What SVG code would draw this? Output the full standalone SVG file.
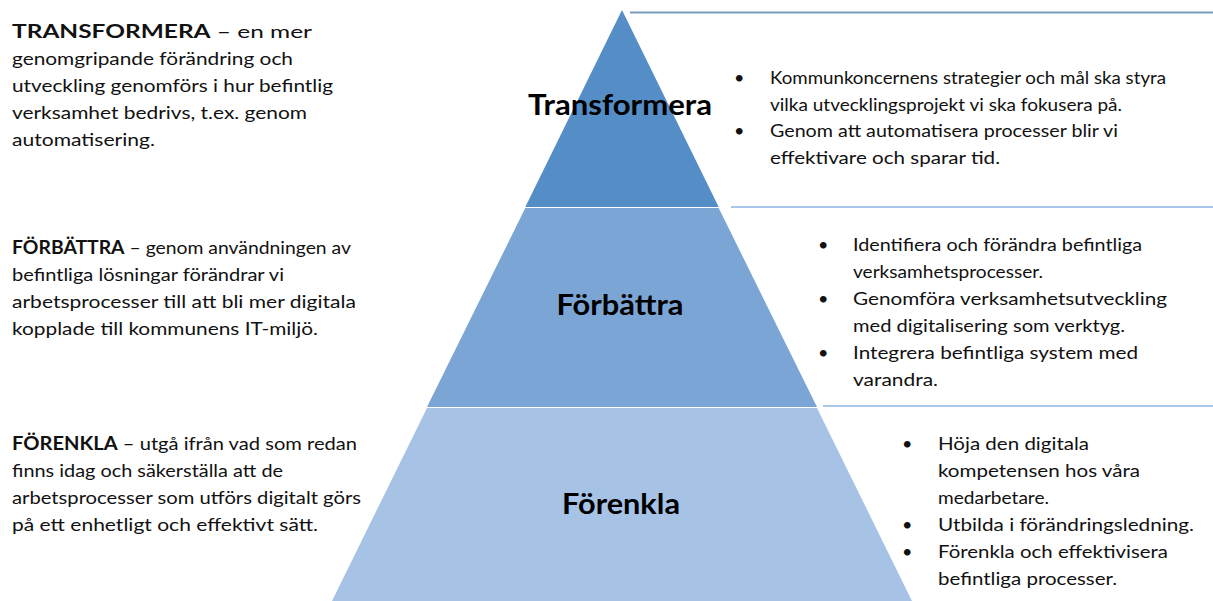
<svg xmlns="http://www.w3.org/2000/svg" width="1213" height="601" viewBox="0 0 1213 601">
<style>
.t{font-family:Lato,"Liberation Sans",sans-serif;font-size:18px;fill:#111}
.b{font-weight:bold}
.lbl{font-family:Lato,"Liberation Sans",sans-serif;font-size:28px;font-weight:bold;fill:#000;text-anchor:middle}
.sep{fill:none}
</style>
<rect width="1213" height="601" fill="#fff"/>
<g id="layer-transformera">
<polygon points="622,10 718.7,207 525.3,207" fill="#558DC6"/>
<text class="lbl" x="620" y="115" textLength="184" lengthAdjust="spacingAndGlyphs">Transformera</text>
</g>
<g id="layer-forbattra">
<polygon points="525.3,208 718.7,208 817,407 427,407" fill="#7BA5D5"/>
<text class="lbl" x="620" y="315" textLength="127" lengthAdjust="spacingAndGlyphs">Förbättra</text>
</g>
<g id="layer-forenkla">
<polygon points="427,408 817,408 912,601 332,601" fill="#A6C2E4"/>
<text class="lbl" x="621" y="514" textLength="118" lengthAdjust="spacingAndGlyphs">Förenkla</text>
</g>
<g id="connectors">
<line x1="630" y1="12.5" x2="1213" y2="12.5" stroke="#7D9DC0" stroke-width="2"/>
<line x1="731" y1="207" x2="1213" y2="207" stroke="#8DB3E2" stroke-width="1.5"/>
<line x1="823" y1="406" x2="1213" y2="406" stroke="#8DB3E2" stroke-width="1.5"/>
</g>
<g id="desc-transformera" class="t">
<text x="12" y="38" textLength="300" lengthAdjust="spacingAndGlyphs"><tspan class="b">TRANSFORMERA</tspan> – en mer</text>
<text x="12" y="65" textLength="281" lengthAdjust="spacingAndGlyphs">genomgripande förändring och</text>
<text x="12" y="92" textLength="321" lengthAdjust="spacingAndGlyphs">utveckling genomförs i hur befintlig</text>
<text x="12" y="119" textLength="295" lengthAdjust="spacingAndGlyphs">verksamhet bedrivs, t.ex. genom</text>
<text x="12" y="146" textLength="143" lengthAdjust="spacingAndGlyphs">automatisering.</text>
</g>
<g id="desc-forbattra" class="t">
<text x="12" y="254" textLength="339" lengthAdjust="spacingAndGlyphs"><tspan class="b">FÖRBÄTTRA</tspan> – genom användningen av</text>
<text x="12" y="281" textLength="272" lengthAdjust="spacingAndGlyphs">befintliga lösningar förändrar vi</text>
<text x="12" y="308" textLength="344" lengthAdjust="spacingAndGlyphs">arbetsprocesser till att bli mer digitala</text>
<text x="12" y="335" textLength="306" lengthAdjust="spacingAndGlyphs">kopplade till kommunens IT-miljö.</text>
</g>
<g id="desc-forenkla" class="t">
<text x="12" y="450" textLength="345" lengthAdjust="spacingAndGlyphs"><tspan class="b">FÖRENKLA</tspan> – utgå ifrån vad som redan</text>
<text x="12" y="477" textLength="271" lengthAdjust="spacingAndGlyphs">finns idag och säkerställa att de</text>
<text x="12" y="504" textLength="349" lengthAdjust="spacingAndGlyphs">arbetsprocesser som utförs digitalt görs</text>
<text x="12" y="531" textLength="306" lengthAdjust="spacingAndGlyphs">på ett enhetligt och effektivt sätt.</text>
</g>
<g id="bullets-transformera" class="t">
<text x="734" y="84">•</text>
<text x="770" y="84" textLength="396" lengthAdjust="spacingAndGlyphs">Kommunkoncernens strategier och mål ska styra</text>
<text x="770" y="111" textLength="352" lengthAdjust="spacingAndGlyphs">vilka utvecklingsprojekt vi ska fokusera på.</text>
<text x="734" y="137">•</text>
<text x="770" y="137" textLength="348" lengthAdjust="spacingAndGlyphs">Genom att automatisera processer blir vi</text>
<text x="770" y="164" textLength="230" lengthAdjust="spacingAndGlyphs">effektivare och sparar tid.</text>
</g>
<g id="bullets-forbattra" class="t">
<text x="818" y="251">•</text>
<text x="853" y="251" textLength="289" lengthAdjust="spacingAndGlyphs">Identifiera och förändra befintliga</text>
<text x="853" y="278" textLength="190" lengthAdjust="spacingAndGlyphs">verksamhetsprocesser.</text>
<text x="818" y="305">•</text>
<text x="853" y="305" textLength="314" lengthAdjust="spacingAndGlyphs">Genomföra verksamhetsutveckling</text>
<text x="853" y="332" textLength="272" lengthAdjust="spacingAndGlyphs">med digitalisering som verktyg.</text>
<text x="818" y="359">•</text>
<text x="853" y="359" textLength="285" lengthAdjust="spacingAndGlyphs">Integrera befintliga system med</text>
<text x="853" y="386" textLength="85" lengthAdjust="spacingAndGlyphs">varandra.</text>
</g>
<g id="bullets-forenkla" class="t">
<text x="902" y="450">•</text>
<text x="938" y="450" textLength="151" lengthAdjust="spacingAndGlyphs">Höja den digitala</text>
<text x="938" y="477" textLength="202" lengthAdjust="spacingAndGlyphs">kompetensen hos våra</text>
<text x="938" y="504" textLength="111" lengthAdjust="spacingAndGlyphs">medarbetare.</text>
<text x="902" y="531">•</text>
<text x="938" y="531" textLength="256" lengthAdjust="spacingAndGlyphs">Utbilda i förändringsledning.</text>
<text x="902" y="558">•</text>
<text x="938" y="558" textLength="230" lengthAdjust="spacingAndGlyphs">Förenkla och effektivisera</text>
<text x="938" y="585" textLength="179" lengthAdjust="spacingAndGlyphs">befintliga processer.</text>
</g>
</svg>
